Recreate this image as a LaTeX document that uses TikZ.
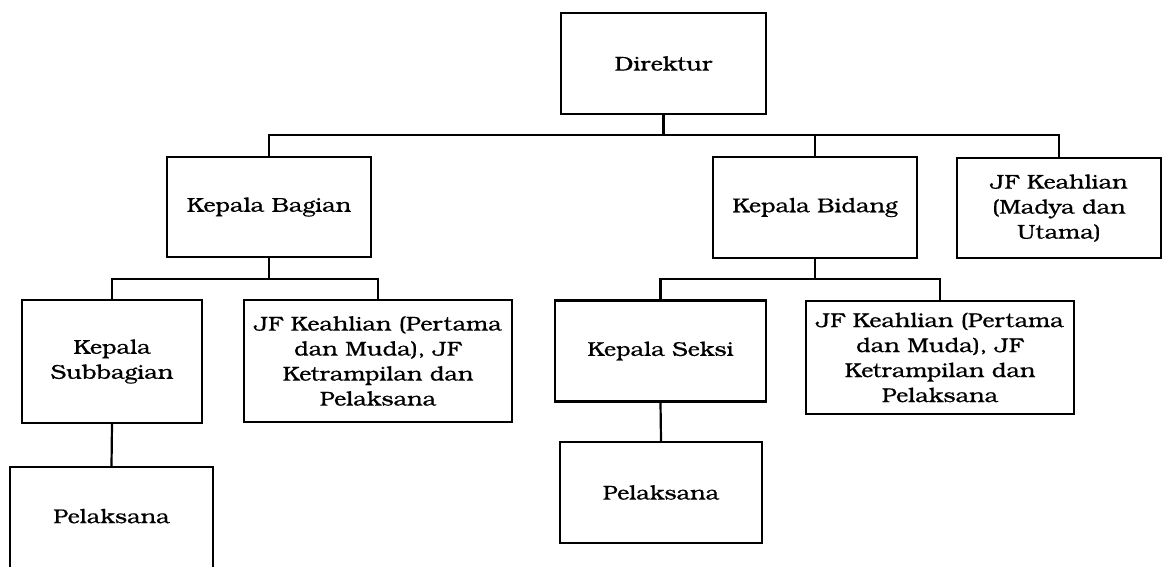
\documentclass[tikz,border=0pt]{standalone}
\usepackage{fontspec}
\setmainfont{TeX Gyre Bonum}[FakeStretch=1.17,FakeBold=0.6]
\begin{document}
\begin{tikzpicture}[x=1pt,y=-1pt,
  box/.style={draw, line width=2.2pt, align=center, inner sep=0pt,
    font=\fontsize{20}{25}\selectfont},
  link/.style={line width=2.2pt}]
\useasboundingbox (0,0) rectangle (1166,566);
\clip (0,0) rectangle (1166,566);

% top level
\node[box, minimum width=205, minimum height=101] (dir) at (663.5,63.5) {Direktur};

% second level
\node[box, minimum width=204, minimum height=100] (kbag) at (269,207) {Kepala Bagian};
\node[box, minimum width=204, minimum height=101] (kbid) at (815,207.5) {Kepala Bidang};
\node[box, minimum width=204, minimum height=100] (jfmu) at (1059,208) {JF Keahlian\\(Madya dan\\Utama)};

% third level
\node[box, minimum width=180, minimum height=123] (ksub) at (112,361.5) {Kepala\\Subbagian};
\node[box, minimum width=268, minimum height=122] (jfa) at (378,361) {JF Keahlian (Pertama\\dan Muda), JF\\Ketrampilan dan\\Pelaksana};
\node[box, minimum width=211, minimum height=101] (kseksi) at (660.5,351) {Kepala Seksi};
\node[box, minimum width=268, minimum height=113] (jfb) at (940,357.5) {JF Keahlian (Pertama\\dan Muda), JF\\Ketrampilan dan\\Pelaksana};

% fourth level (the left box runs past the lower edge of the sheet)
\node[box, minimum width=203, minimum height=120, text depth=22pt] (pela) at (111.5,527) {Pelaksana};
\node[box, minimum width=202, minimum height=101] (pelb) at (661,492.5) {Pelaksana};

% bus lines
\coordinate (busA) at (663.5,135);
\coordinate (busB) at (0,279);

\draw[link] (dir.south) -- (dir.south |- busA);
\draw[link] (kbag.north) -- (kbag.north |- busA) -| (jfmu.north);
\draw[link] (kbid.north) -- (kbid.north |- busA);

\draw[link] (kbag.south) -- (kbag.south |- busB);
\draw[link] (ksub.north) -- (ksub.north |- busB) -| (jfa.north);

\draw[link] (kbid.south) -- (kbid.south |- busB);
\draw[link] (kseksi.north) -- (kseksi.north |- busB) -| (jfb.north);

\draw[link] (ksub.south) -- (pela.north);
\draw[link] (kseksi.south) -- (pelb.north);
\end{tikzpicture}
\end{document}
